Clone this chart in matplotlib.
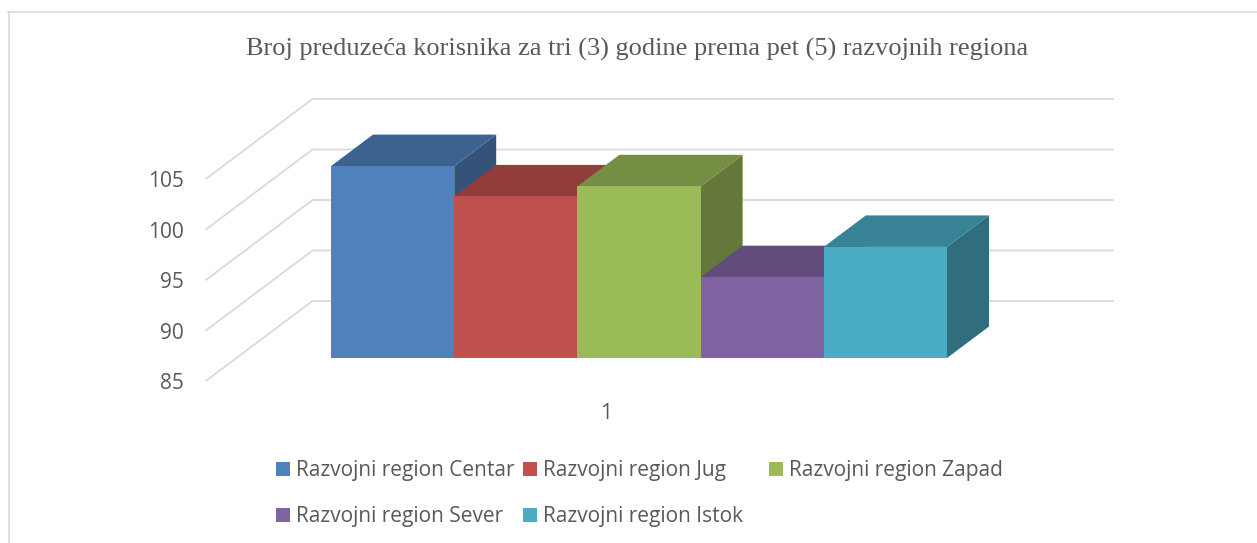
#!/usr/bin/env python3
import matplotlib

matplotlib.use("Agg")
import matplotlib.pyplot as plt
from matplotlib.colors import to_rgb
from matplotlib.lines import Line2D
from matplotlib.patches import Patch, Polygon

TITLE = "Broj preduzeća korisnika za tri (3) godine prema pet (5) razvojnih regiona"
REGIONS = [
    "Razvojni region Centar",
    "Razvojni region Jug",
    "Razvojni region Zapad",
    "Razvojni region Sever",
    "Razvojni region Istok",
]
VALUES = [104, 101, 102, 93, 96]
COLORS = ["#4F81BD", "#C0504D", "#9BBB59", "#8064A2", "#4BACC6"]
TICKS = [85, 90, 95, 100, 105]
CATEGORY = "1"

WIDTH, HEIGHT = 1257, 543
TEXT = "#595959"
GRID = "#D9D9D9"

# layout in pixels of the front plane of the bars
BAR_LEFT, BAR_W = 331, 123.2
BASE_Y, UNIT_H = 358, 10.1
DEPTH_X, DEPTH_Y = 42, 31.5


def project(x, value, depth):
    # oblique projection: depth 0 is the bar front, depth 1 the bar back
    return x + depth * DEPTH_X / BAR_W, value + depth * DEPTH_Y / UNIT_H


def shade(color, factor):
    return tuple(c * factor for c in to_rgb(color))


def px_x(px):
    return (px - BAR_LEFT) / BAR_W - 0.5


fig = plt.figure(figsize=(WIDTH / 100, HEIGHT / 100), dpi=100)
ax = fig.add_axes([0, 0, 1, 1])
ax.set_xlim(px_x(0), px_x(WIDTH))
base = TICKS[0]
ax.set_ylim(base - (HEIGHT - BASE_Y) / UNIT_H, base + BASE_Y / UNIT_H)
ax.set_axis_off()

# outer chart frame
fig.add_artist(Line2D([8.5 / WIDTH, 8.5 / WIDTH], [0, 1 - 12 / HEIGHT], color=GRID, lw=1.2))
fig.add_artist(Line2D([8 / WIDTH, 1], [1 - 12 / HEIGHT, 1 - 12 / HEIGHT], color=GRID, lw=1.2))

# floor/wall grid lines
wall_front, wall_back = -0.72, 1.81
left_x, right_x = px_x(236.5), px_x(1037)
for t in TICKS:
    p0 = project(left_x, t, wall_front)
    p1 = project(left_x, t, wall_back)
    p2 = project(right_x, t, wall_back)
    ax.plot([p0[0], p1[0], p2[0]], [p0[1], p1[1], p2[1]], color=GRID, lw=1.3, solid_joinstyle="miter", zorder=1)
    ax.text(px_x(184), p0[1] - 0.3, str(t), ha="right", va="center", fontsize=15, color=TEXT, family="Open Sans")

# bars, painted left to right so later tops cover earlier sides
for i, (value, color) in enumerate(zip(VALUES, COLORS)):
    z = 2 + i
    x0, x1 = i - 0.5, i + 0.5
    ax.bar(i, value - base, width=1, bottom=base, color=color, linewidth=0, zorder=z + 0.2)
    top = [project(x0, value, 0), project(x1, value, 0), project(x1, value, 1), project(x0, value, 1)]
    side = [project(x1, base, 0), project(x1, value, 0), project(x1, value, 1), project(x1, base, 1)]
    ax.add_patch(Polygon(side, closed=True, facecolor=shade(color, 0.64), edgecolor="none", zorder=z))
    ax.add_patch(Polygon(top, closed=True, facecolor=shade(color, 0.76), edgecolor="none", zorder=z + 0.1))

ax.text(px_x(606.5), base - (413 - BASE_Y) / UNIT_H, CATEGORY, ha="center", va="center", fontsize=15, color=TEXT,
        family="Open Sans")
fig.text(637 / WIDTH, 1 - 49 / HEIGHT, TITLE, ha="center", va="center", fontsize=19, color=TEXT,
         family="Liberation Serif")

# the legend columns sit on an even grid, so each column is its own legend
for left, col in zip([276, 523, 769], [[0, 3], [1, 4], [2]]):
    fig.legend(
        [Patch(facecolor=COLORS[k], edgecolor="none") for k in col],
        [REGIONS[k] for k in col],
        loc="upper left",
        bbox_to_anchor=(left / WIDTH, 1 - 460 / HEIGHT),
        borderaxespad=0,
        borderpad=0,
        frameon=False,
        labelcolor=TEXT,
        handlelength=0.67,
        handleheight=0.67,
        handletextpad=0.3,
        labelspacing=1.2,
        prop={"family": "Open Sans", "size": 15},
    )

fig.savefig("out.png", dpi=100)
